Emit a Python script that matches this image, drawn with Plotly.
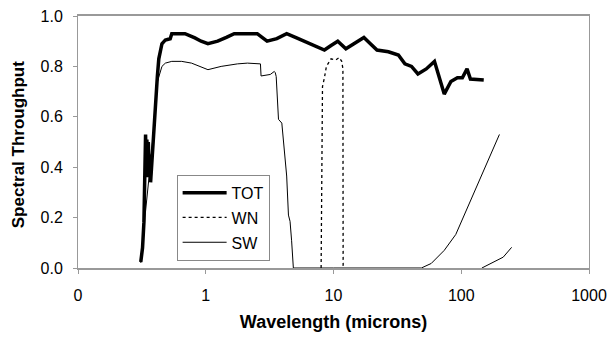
import plotly.graph_objects as go

# TOT series (wavelength in microns, throughput)
tot_wl = [0.31, 0.32, 0.328, 0.334, 0.338, 0.342, 0.346, 0.350, 0.355, 0.360, 0.365, 0.370,
          0.380, 0.395, 0.404, 0.418, 0.429, 0.454, 0.483, 0.527, 0.542, 0.60, 0.688, 0.822,
          0.92, 1.04, 1.24, 1.45, 1.67, 2.0, 2.53, 2.76, 3.02, 3.60, 4.30, 5.14, 6.14, 7.33,
          8.49, 9.57, 10.8, 12.5, 14.5, 17.3, 18.9, 21.9, 26.9, 32.2, 36.2, 40.8, 45.8, 53.2,
          61.7, 67.4, 73.6, 83.0, 93.3, 102, 111, 118, 130, 150]
tot_val = [0.024, 0.08, 0.18, 0.42, 0.53, 0.38, 0.51, 0.36, 0.50, 0.40, 0.45, 0.34,
           0.44, 0.58, 0.65, 0.76, 0.83, 0.89, 0.905, 0.91, 0.93, 0.93, 0.93, 0.913,
           0.90, 0.89, 0.90, 0.915, 0.93, 0.93, 0.93, 0.915, 0.90, 0.91, 0.93, 0.913, 0.896, 0.88,
           0.865, 0.883, 0.90, 0.87, 0.89, 0.915, 0.896, 0.865, 0.858, 0.845, 0.81, 0.80, 0.77, 0.79,
           0.82, 0.75, 0.69, 0.74, 0.755, 0.755, 0.79, 0.75, 0.748, 0.746]

# WN series
wn_wl = [8.0, 8.05, 8.2, 8.49, 8.8, 9.57, 10.45, 11.1, 11.6, 11.85, 11.9]
wn_val = [0.0, 0.40, 0.72, 0.755, 0.80, 0.83, 0.826, 0.835, 0.82, 0.79, 0.0]

# SW series (two segments separated by a gap)
sw_wl = [0.31, 0.32, 0.334, 0.36, 0.38, 0.40, 0.416, 0.454, 0.483, 0.542, 0.648, 0.774,
         1.04, 1.32, 1.77, 2.12, 2.68, 2.71, 3.20, 3.44, 3.50, 3.56, 3.71, 3.94, 4.06,
         4.30, 4.44, 4.57, 4.70, 4.85, 10, 20, 30, 40, 48.7, 58.2, 73.6, 90.6, 111, 125,
         141, 159, 179, 199,
         None,
         145, 179, 213, 248]
sw_val = [0.02, 0.07, 0.20, 0.38, 0.48, 0.60, 0.735, 0.80, 0.813, 0.82, 0.82, 0.813,
          0.787, 0.80, 0.81, 0.813, 0.81, 0.762, 0.768, 0.78, 0.775, 0.76, 0.59, 0.575, 0.49,
          0.365, 0.21, 0.185, 0.108, 0.0, 0.0, 0.0, 0.0, 0.0, 0.0, 0.018, 0.07, 0.133, 0.236, 0.293,
          0.358, 0.415, 0.48, 0.53,
          None,
          0.0, 0.024, 0.043, 0.082]

x_tickvals = [0.1, 1, 10, 100, 1000]
x_ticktext = ["0", "1", "10", "100", "1000"]
y_tickvals = [0.0, 0.2, 0.4, 0.6, 0.8, 1.0]
y_ticktext = ["0.0", "0.2", "0.4", "0.6", "0.8", "1.0"]
y_title = "Spectral Throughput"
x_title = "Wavelength (microns)"

FONT = "Liberation Sans, Arial, sans-serif"

fig = go.Figure()
fig.add_trace(go.Scatter(x=tot_wl, y=tot_val, mode="lines", name="TOT",
                         line=dict(color="black", width=3.5), legendgroup="a"))
fig.add_trace(go.Scatter(x=wn_wl, y=wn_val, mode="lines", name="WN",
                         line=dict(color="black", width=1.3, dash="dot"), legendgroup="b"))
fig.add_trace(go.Scatter(x=sw_wl, y=sw_val, mode="lines", name="SW", connectgaps=False,
                         line=dict(color="black", width=1), legendgroup="c"))

fig.update_layout(
    width=615, height=341,
    margin=dict(l=78, r=19, t=8, b=73),
    paper_bgcolor="white", plot_bgcolor="white",
    font=dict(family=FONT, color="black", size=16),
    showlegend=True,
    legend=dict(x=0.193, y=0.37, xanchor="left", yanchor="top",
                bgcolor="white", bordercolor="#888888", borderwidth=1,
                font=dict(family=FONT, size=16, color="black"),
                traceorder="grouped", tracegroupgap=1, itemwidth=44),
    xaxis=dict(type="log", range=[-1, 3], tickvals=x_tickvals, ticktext=x_ticktext,
               showgrid=False, zeroline=False,
               showline=True, linecolor="#999999", linewidth=1.5, mirror=True,
               ticks="outside", ticklen=4, tickcolor="#999999", ticklabelstandoff=8,
               tickfont=dict(family=FONT, size=16),
               title=dict(text="<b>" + x_title + "</b>", font=dict(family=FONT, size=18),
                          standoff=12)),
    yaxis=dict(range=[0, 1], tickvals=y_tickvals, ticktext=y_ticktext,
               showgrid=False, zeroline=False,
               showline=True, linecolor="#999999", linewidth=1, mirror=True,
               ticks="outside", ticklen=4, tickcolor="#999999", ticklabelstandoff=7,
               tickfont=dict(family=FONT, size=16)),
    annotations=[dict(text="<b>" + y_title + "</b>", xref="paper", yref="paper",
                      x=-0.116, y=0.49, xanchor="center", yanchor="middle",
                      textangle=-90, showarrow=False,
                      font=dict(family=FONT, size=17, color="black"))],
)

fig.write_html("out.html")
